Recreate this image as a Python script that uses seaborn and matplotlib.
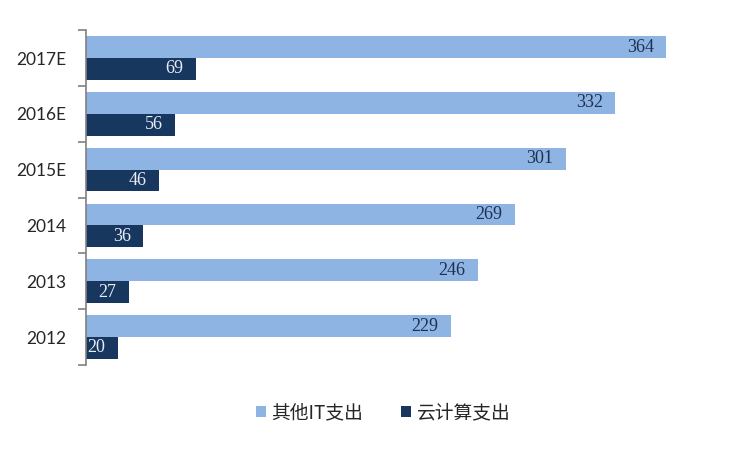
import pandas as pd
import matplotlib.pyplot as plt
import seaborn as sns

years = ["2017E", "2016E", "2015E", "2014", "2013", "2012"]
other_it = [364, 332, 301, 269, 246, 229]
cloud = [69, 56, 46, 36, 27, 20]
series = ["其他IT支出", "云计算支出"]
colors = ["#8EB4E3", "#17375E"]

df = pd.DataFrame({
    "year": years * 2,
    "value": other_it + cloud,
    "series": [series[0]] * len(years) + [series[1]] * len(years),
})

sns.set_style("white")
plt.rcParams["font.family"] = ["Noto Sans CJK SC", "DejaVu Sans"]

fig = plt.figure(figsize=(7.5, 4.5), dpi=100)
ax = fig.add_axes([0.1147, 0.189, 0.85, 0.744])

sns.barplot(data=df, y="year", x="value", hue="series", order=years,
            hue_order=series, palette=colors, orient="h", width=0.78,
            saturation=1, linewidth=0, ax=ax, legend=True)

ax.set_xlim(0, 400)
ax.set_ylim(len(years) - 0.5, -0.5)
ax.set_xlabel("")
ax.set_ylabel("")
ax.set_xticks([])

# category labels in the middle, tick marks on the boundaries
ax.set_yticks(range(len(years)))
ax.set_yticklabels(years, fontsize=12.5, family="Lato")
ax.tick_params(axis="y", which="major", length=0, pad=14)
ax.set_yticks([i - 0.5 for i in range(len(years) + 1)], minor=True)
ax.tick_params(axis="y", which="minor", length=6, width=1.2, color="#808080", left=True)

for s in ["top", "right", "bottom"]:
    ax.spines[s].set_visible(False)
ax.spines["left"].set_color("#808080")
ax.spines["left"].set_linewidth(1.2)

text_cols = ["#1F2F4F", "#E8EEF8"]
for cont, tc in zip(ax.containers, text_cols):
    labels = ax.bar_label(cont, padding=-9, fontsize=13, color=tc,
                          family="Liberation Serif")
    for t in labels:
        t.set_ha("right")

ax.legend(loc="center", bbox_to_anchor=(0.466, -0.143), ncol=2, frameon=False,
          fontsize=13.5, handlelength=0.55, handleheight=0.55, handletextpad=0.3,
          columnspacing=2.0)

fig.savefig("out.png", dpi=100)
